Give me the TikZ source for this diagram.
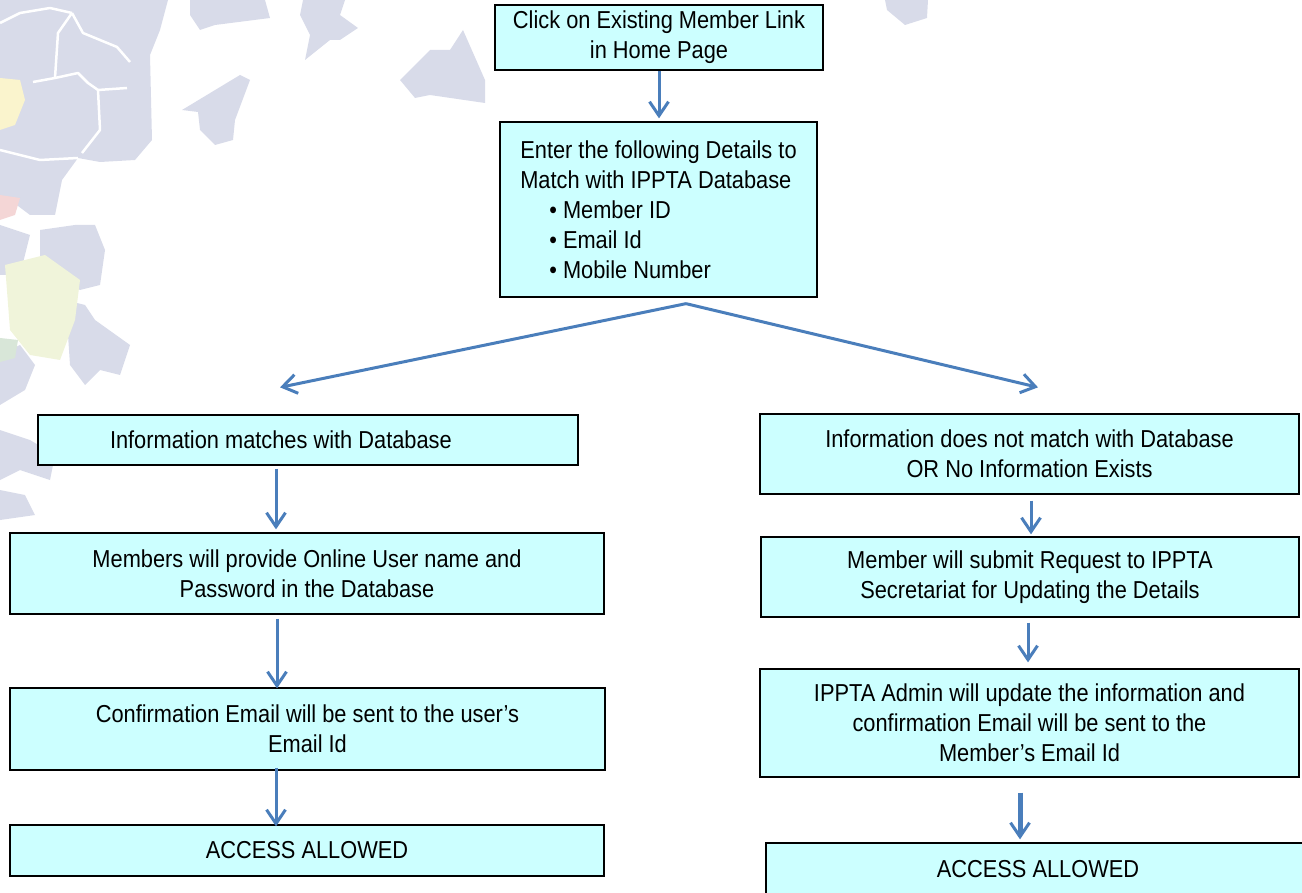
\documentclass[tikz,border=0pt]{standalone}
\usepackage{fontspec}
\setmainfont{Liberation Sans}[FakeStretch=0.89]
\usetikzlibrary{arrows.meta,calc}
\definecolor{boxfill}{RGB}{204,255,255}
\definecolor{arrowblue}{RGB}{74,126,187}
\definecolor{leafgrey}{RGB}{216,219,233}
\definecolor{leafyellow}{RGB}{250,244,205}
\definecolor{leafred}{RGB}{244,214,214}
\definecolor{leaflime}{RGB}{240,244,218}
\definecolor{leafgreen}{RGB}{216,230,216}
\tikzset{
  flowbox/.style={draw=black, line width=1.3pt, fill=boxfill, inner sep=0pt,
    align=center, font=\fontsize{24.5}{30}\selectfont},
  flowarrow/.style={draw=arrowblue, line width=3pt,
    -{Straight Barb[length=14pt,width=19pt,line width=3pt]}},
  leaf/.style={fill=leafgrey, draw=none},
  gap/.style={draw=white, line width=2.5pt, line join=round}
}
\begin{document}
\begin{tikzpicture}[x=1pt,y=-1pt]
\useasboundingbox (0,0) rectangle (1302,893);
% background decoration
\fill[leaf] (190,0)--(265,0)--(270,18)--(215,25)--(200,30)--(190,15)--cycle;
\fill[leaf] (303,0)--(345,0)--(340,15)--(358,28)--(340,40)--(330,40)--(305,60)--(310,35)--(300,15)--cycle;
\fill[leaf] (400,80)--(430,50)--(450,50)--(463,30)--(485,80)--(485,103)--(430,95)--(415,98)--cycle;
\fill[leaf] (182,110)--(240,75)--(250,80)--(235,120)--(233,140)--(215,145)--(200,130)--(198,112)--cycle;
\fill[leaf] (885,0)--(928,0)--(927,18)--(905,25)--(887,10)--cycle;
% top-left cluster
\fill[leaf] (0,0)--(168,0)--(160,30)--(150,55)--(152,140)--(135,160)--(100,162)--(78,158)--(62,180)--(55,215)--(30,215)--(10,200)--(0,210)--cycle;
\draw[gap] (0,23)--(20,13)--(50,8)--(72,13);
\draw[gap] (72,13)--(83,33)--(117,47)--(130,62);
\draw[gap] (72,13)--(58,33)--(55,78)--(33,82);
\draw[gap] (55,78)--(78,73)--(88,83)--(98,90)--(127,88);
\draw[gap] (98,90)--(100,130)--(82,153);
\draw[gap] (0,150)--(40,160)--(78,158);
\fill[leaf] (40,230)--(75,225)--(95,225)--(105,250)--(100,285)--(80,290)--(55,275)--(40,260)--cycle;
\fill[leaf] (0,225)--(30,235)--(20,275)--(0,275)--cycle;
\fill[leaf] (65,300)--(85,305)--(95,320)--(130,345)--(120,375)--(100,370)--(85,385)--(70,365)--(68,335)--cycle;
\fill[leaf] (0,355)--(20,345)--(35,365)--(25,390)--(0,405)--cycle;
\fill[leaf] (0,430)--(30,440)--(55,455)--(50,480)--(20,470)--(0,480)--cycle;
\fill[leaf] (0,490)--(25,495)--(35,515)--(0,520)--cycle;
\fill[leafyellow] (0,78)--(20,80)--(25,100)--(15,125)--(0,130)--cycle;
\fill[leafred] (0,195)--(20,198)--(15,215)--(0,220)--cycle;
\fill[leaflime] (5,265)--(45,255)--(80,280)--(75,320)--(60,360)--(30,355)--(10,330)--cycle;
\fill[leafgreen] (0,338)--(18,340)--(15,358)--(0,362)--cycle;

% boxes
\node[flowbox, minimum width=328pt, minimum height=65pt] (top) at (659,37.5)
  {Click on Existing Member Link\\in Home Page};
\node[flowbox, align=left, minimum width=317pt, minimum height=175pt] (details) at (658.5,209.5)
  {Enter the following Details to\\Match with IPPTA Database\\
   \hspace*{29pt}• Member ID\\\hspace*{29pt}• Email Id\\\hspace*{29pt}• Mobile Number};
\node[flowbox, minimum width=540pt, minimum height=50pt] (match) at (308,440)
  {\makebox[540pt][l]{\hspace*{72pt}Information matches with Database}};
\node[flowbox, minimum width=594pt, minimum height=81pt] (provide) at (307,573.5)
  {Members will provide Online User name and\\Password in the Database};
\node[flowbox, minimum width=595pt, minimum height=82pt] (confirm) at (307.5,729)
  {Confirmation Email will be sent to the user’s\\Email Id};
\node[flowbox, minimum width=594pt, minimum height=51pt] (accessL) at (307,850.5)
  {ACCESS ALLOWED};
\node[flowbox, minimum width=539pt, minimum height=80pt] (nomatch) at (1029.5,454)
  {Information does not match with Database\\OR No Information Exists};
\node[flowbox, minimum width=538pt, minimum height=80pt] (request) at (1030,577)
  {Member will submit Request to IPPTA\\Secretariat for Updating the Details};
\node[flowbox, minimum width=539pt, minimum height=108pt] (update) at (1029.5,723)
  {IPPTA Admin will update the information and\\confirmation Email will be sent to the\\Member’s Email Id};
\node[flowbox, minimum width=544pt, minimum height=52pt] (accessR) at (1038,869)
  {ACCESS ALLOWED};

% connectors
\draw[flowarrow] (top.south) -- ([xshift=0.5pt,yshift=3pt]details.north);
\coordinate (apex) at ([xshift=27.5pt,yshift=-6pt]details.south);
\coordinate (tipL) at ([xshift=-28pt,yshift=27pt]match.north);
\coordinate (tipR) at ([xshift=8.5pt,yshift=26pt]nomatch.north);
\draw[flowarrow] (apex) -- (tipL);
\draw[flowarrow] (apex) -- (tipR);
\draw[flowarrow] ([xshift=-32pt,yshift=-3pt]match.south) -- ([xshift=-31pt,yshift=3pt]provide.north);
\draw[flowarrow] ([xshift=-30pt,yshift=-4pt]provide.south) -- ([xshift=-30.5pt,yshift=-1pt]confirm.north);
\draw[flowarrow] ([xshift=-31.5pt,yshift=3pt]confirm.south) -- ([xshift=-31pt,yshift=-2pt]accessL.north);
\draw[flowarrow] ([xshift=1.5pt,yshift=-6pt]nomatch.south) -- ([xshift=1pt,yshift=2pt]request.north);
\draw[flowarrow] ([xshift=-2pt,yshift=-5pt]request.south) -- ([xshift=-1.5pt,yshift=6pt]update.north);
\draw[flowarrow, line width=5pt] ([xshift=-9.5pt,yshift=-15pt]update.south) -- ([xshift=-18pt,yshift=3pt]accessR.north);
\end{tikzpicture}
\end{document}
